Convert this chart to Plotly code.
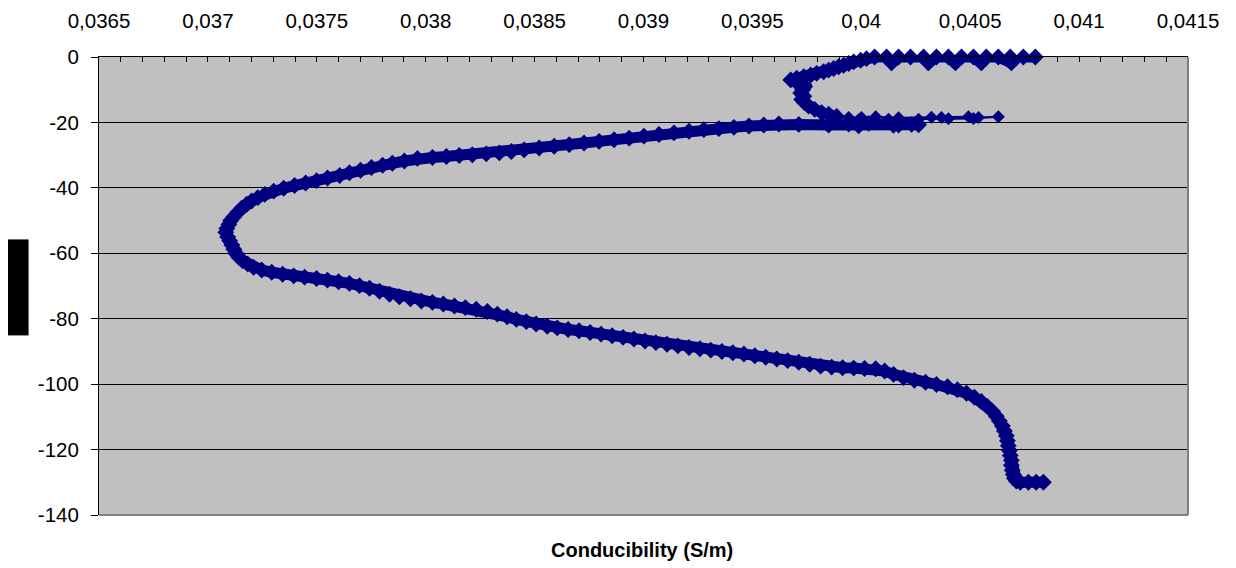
import plotly.graph_objects as go

depth = [
    0, 0, 0, -1.8, 0, 0, -1.8, 0, 0, -1.8, 0, 0, -1.8, 0, 0, 0, -1.8, 0, 0, -0.5,
    -1, -1.5, -2, -2.5, -3, -3.5, -4, -4.5, -5, -5.5, -6, -6.5, -7, -7.5, -8, -9,
    -10, -11, -12, -13, -14, -15, -16, -17, -17.5, -18.2, -18.5, -18.5, -18.3, -18.6,
    -18.4, -18.5, -18.3, -18.5, -18.3, -18.8, -18.9, -19, -19, -19.2, -19.5, -20.3,
    -20.5, -20.3, -20.8, -20.6, -20.7, -20.9, -21, -20.8, -20.6, -20.5, -20.8, -21.1,
    -21.5, -21.9, -22.2, -22.7, -23.2, -23.7, -24.2, -24.8, -25.3, -25.8, -26.3, -26.8,
    -27.3, -27.8, -28.4, -28.9, -29.3, -29.6, -29.9, -30.1, -30.4, -30.7, -31.0, -31.8,
    -32.5, -33.1, -33.8, -34.6, -35.4, -36.2, -37.0, -37.8, -38.5, -39.3, -40.1, -41.0,
    -42.0, -43.0, -44.0, -45.0, -46.2, -47.5, -48.8, -50.0, -51.2, -52.4, -53.6, -55.0,
    -56.2, -57.5, -58.8, -60.0, -61.2, -62.3, -63.3, -64.3, -65.1, -65.8, -66.4, -66.9,
    -67.3, -67.7, -68.2, -68.7, -69.2, -69.9, -70.7, -71.6, -72.5, -73.3, -73.9, -74.6,
    -75.0, -75.5, -76.1, -76.6, -77.1, -77.8, -78.6, -79.4, -80.2, -80.9, -81.6, -82.3,
    -82.8, -83.3, -83.7, -84.2, -84.7, -85.2, -85.7, -86.2, -86.8, -87.3, -87.8, -88.3,
    -88.8, -89.2, -89.6, -90.0, -90.4, -90.8, -91.3, -91.8, -92.3, -92.8, -93.3, -93.9,
    -94.5, -94.8, -95.0, -95.1, -95.2, -95.3, -96.0, -97.0, -98.0, -98.8, -99.4, -100.1,
    -100.8, -101.7, -102.8, -104.0, -105.3, -106.8, -108.3, -109.8, -111.3, -112.8,
    -114.3, -115.8, -117.3, -118.8, -120.3, -121.8, -123.3, -124.8, -126.3, -127.6,
    -128.8, -129.6, -130.0, -130.0, -130.0, -130.0,
]

conductivity = [
    0.040799, 0.040744, 0.040684, 0.040689, 0.040629, 0.040574, 0.040551, 0.040515,
    0.040460, 0.040432, 0.040400, 0.040345, 0.040308, 0.040286, 0.040226, 0.040171,
    0.040139, 0.040116, 0.040061, 0.040024, 0.039997, 0.039965, 0.039942, 0.039919,
    0.039896, 0.039873, 0.039850, 0.039827, 0.039795, 0.039768, 0.039736, 0.039703,
    0.039676, 0.039699, 0.039726, 0.039740, 0.039731, 0.039722, 0.039736, 0.039726,
    0.039740, 0.039758, 0.039786, 0.039818, 0.039850, 0.039887, 0.039942, 0.040001,
    0.040066, 0.040171, 0.040322, 0.040368, 0.040492, 0.040538, 0.040629, 0.040515,
    0.040400, 0.040263, 0.040125, 0.039988, 0.039873, 0.039818, 0.039942, 0.040033,
    0.040171, 0.040231, 0.040263, 0.040148, 0.039988, 0.039850, 0.039713, 0.039621,
    0.039552, 0.039484, 0.039415, 0.039346, 0.039277, 0.039209, 0.039140, 0.039071,
    0.039002, 0.038934, 0.038865, 0.038796, 0.038727, 0.038659, 0.038590, 0.038521,
    0.038452, 0.038393, 0.038338, 0.038278, 0.038214, 0.038154, 0.038095, 0.038031,
    0.037962, 0.037902, 0.037847, 0.037802, 0.037751, 0.037701, 0.037650, 0.037605,
    0.037549, 0.037499, 0.037449, 0.037398, 0.037348, 0.037302, 0.037261, 0.037229,
    0.037201, 0.037178, 0.037155, 0.037137, 0.037119, 0.037105, 0.037096, 0.037087,
    0.037082, 0.037091, 0.037100, 0.037110, 0.037119, 0.037128, 0.037142, 0.037160,
    0.037183, 0.037210, 0.037247, 0.037293, 0.037343, 0.037394, 0.037444, 0.037499,
    0.037549, 0.037600, 0.037650, 0.037696, 0.037742, 0.037788, 0.037834, 0.037879,
    0.037930, 0.037980, 0.038031, 0.038081, 0.038132, 0.038182, 0.038232, 0.038283,
    0.038329, 0.038374, 0.038416, 0.038462, 0.038507, 0.038558, 0.038604, 0.038654,
    0.038704, 0.038755, 0.038805, 0.038856, 0.038906, 0.038956, 0.039007, 0.039057,
    0.039108, 0.039158, 0.039209, 0.039259, 0.039309, 0.039360, 0.039410, 0.039461,
    0.039511, 0.039561, 0.039612, 0.039662, 0.039713, 0.039763, 0.039813, 0.039864,
    0.039914, 0.039965, 0.040015, 0.040066, 0.040107, 0.040148, 0.040194, 0.040244,
    0.040295, 0.040345, 0.040396, 0.040441, 0.040483, 0.040519, 0.040551, 0.040579,
    0.040602, 0.040620, 0.040634, 0.040648, 0.040657, 0.040666, 0.040671, 0.040675,
    0.040680, 0.040684, 0.040689, 0.040689, 0.040693, 0.040698, 0.040703, 0.040712,
    0.040730, 0.040767, 0.040803, 0.040836,
]

# the short excursion at about -18.5 m (drawn with a thin connecting line)
spur_start, spur_end = 45, 62

x_tick_vals = [0.0365, 0.037, 0.0375, 0.038, 0.0385, 0.039, 0.0395, 0.04, 0.0405, 0.041, 0.0415]
x_tick_text = ["0,0365", "0,037", "0,0375", "0,038", "0,0385", "0,039", "0,0395", "0,04", "0,0405", "0,041", "0,0415"]
y_tick_vals = [0, -20, -40, -60, -80, -100, -120, -140]
y_tick_text = ["0", "-20", "-40", "-60", "-80", "-100", "-120", "-140"]

x_title = "Conducibility (S/m)"
y_title = "Profondità (m)"

FONT = "Arial, Liberation Sans, sans-serif"
NAVY = "#000080"

fig = go.Figure()
dense_parts = [(0, spur_start + 1), (spur_end, len(depth))]
for a, b in dense_parts:
    fig.add_trace(go.Scatter(
        x=conductivity[a:b], y=depth[a:b],
        mode="lines+markers",
        line=dict(color=NAVY, width=11),
        marker=dict(symbol="diamond", size=13, color=NAVY, line=dict(width=0)),
        cliponaxis=False, showlegend=False, hoverinfo="x+y",
    ))
fig.add_trace(go.Scatter(
    x=conductivity[spur_start:spur_end + 1], y=depth[spur_start:spur_end + 1],
    mode="lines+markers",
    line=dict(color=NAVY, width=2),
    marker=dict(symbol="diamond", size=10, color=NAVY, line=dict(width=0)),
    cliponaxis=False, showlegend=False, hoverinfo="x+y",
))

fig.update_layout(
    width=1228, height=560,
    margin=dict(l=91, r=48, t=49, b=53, autoexpand=False),
    paper_bgcolor="white",
    plot_bgcolor="#C0C0C0",
    font=dict(family=FONT, size=20.5, color="black"),
    showlegend=False,
    xaxis=dict(
        side="top",
        automargin=False,
        range=[0.0365, 0.0415],
        tickvals=x_tick_vals, ticktext=x_tick_text,
        ticks="inside", ticklen=5, tickwidth=1, tickcolor="black",
        minor=dict(dtick=0.0001, ticks="inside", ticklen=5, tickwidth=1, tickcolor="black", showgrid=False),
        showgrid=False, zeroline=False,
        showline=True, linecolor="black", linewidth=1,
        ticklabelstandoff=20,
        tickfont=dict(size=20.5),
    ),
    yaxis=dict(
        automargin=False,
        range=[-140, 0],
        tickvals=y_tick_vals, ticktext=y_tick_text,
        ticks="outside", ticklen=7, tickwidth=1, tickcolor="black",
        showgrid=True, gridcolor="black", gridwidth=1,
        zeroline=False,
        showline=True, linecolor="black", linewidth=1,
        ticklabelstandoff=8,
        tickfont=dict(size=20.5),
    ),
    shapes=[
        dict(type="line", xref="paper", yref="paper", x0=1, x1=1, y0=0, y1=1,
             line=dict(color="#808080", width=2), layer="above"),
        dict(type="line", xref="paper", yref="paper", x0=0, x1=1, y0=0, y1=0,
             line=dict(color="#808080", width=2), layer="above"),
    ],
    annotations=[
        dict(text="<b>" + x_title + "</b>", xref="paper", yref="paper",
             x=0.499, y=-0.048, yanchor="top", showarrow=False,
             font=dict(size=20, family=FONT, color="black")),
        dict(text=y_title, xref="paper", yref="paper", x=-0.0753, y=0.498,
             xanchor="center", yanchor="middle", textangle=-90, showarrow=False,
             bgcolor="black", borderpad=3,
             font=dict(size=14, family=FONT, color="black")),
    ],
)

fig.write_html("out.html")
